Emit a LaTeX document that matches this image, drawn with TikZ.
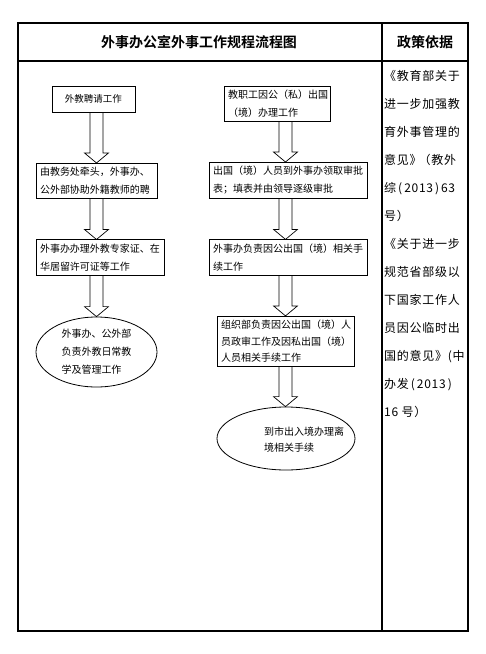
\documentclass[tikz,border=0pt]{standalone}
\usepackage{fontspec}
\setmainfont{Noto Sans CJK SC}[BoldFont={Noto Sans CJK SC Bold}]
\usetikzlibrary{calc,shapes.geometric}
\tikzset{blk/.style={draw, line width=0.8pt, inner sep=4pt, align=left, font=\fontsize{10}{18}\selectfont},
  oval/.style={draw, ellipse, line width=0.8pt, inner sep=0pt, font=\fontsize{10}{18}\selectfont},
  hollow/.style={draw, line width=0.7pt, to path={let \p1=(\tikztostart), \p2=(\tikztotarget) in
    (\x1-6.5pt,\y1) -- (\x1-6.5pt,\y2+10pt) -- (\x1-12pt,\y2+10pt) -- (\x2,\y2)
    -- (\x1+12pt,\y2+10pt) -- (\x1+6.5pt,\y2+10pt) -- (\x1+6.5pt,\y1)}},
  hdr/.style={font=\fontsize{14}{16}\selectfont\bfseries}}

\begin{document}
\begin{tikzpicture}[x=1pt, y=-1pt]
  \useasboundingbox (0,0) rectangle (486,654);
  % table frame
  \draw[line width=1.2pt] (18,23) rectangle (468,631);
  \draw[line width=1.2pt] (18,61) -- (468,61);
  \draw[line width=1.2pt] (382,23) -- (382,631);
  \node[hdr] (title) at (199,42) {外事办公室外事工作规程流程图};
  \node[hdr] (basis) at (425,42) {政策依据};
  % arrow columns
  \coordinate (colL) at (96.5,0);
  \coordinate (colR) at (285.5,0);
  % left column: foreign teachers
  \node[blk, align=center, text width=75, minimum height=26, font=\fontsize{9.5}{12}\selectfont] (b1) at (93.5,99) {外教聘请工作};
  \node[blk, text width=113, minimum height=34] (b2) at (96.5,181) {由教务处牵头，外事办、\\公外部协助外籍教师的聘};
  \node[blk, text width=120, minimum height=35] (b3) at (100,257.5) {外事办办理外教专家证、在\\华居留许可证等工作};
  \node[oval, minimum width=121, minimum height=70, align=left] (e1) at (96.5,352) {外事办、公外部\\负责外教日常教\\学及管理工作};
  \draw[hollow] (b1.south -| colL) to (b2.north -| colL);
  \draw[hollow] (b2.south -| colL) to (b3.north -| colL);
  \draw[hollow] (b3.south -| colL) to (e1.north -| colL);
  % right column: staff going abroad
  \node[blk, text width=98, minimum height=34] (r1) at (277,104) {教职工因公（私）出国\\（境）办理工作};
  \node[blk, text width=150, minimum height=35] (r2) at (288,180.5) {出国（境）人员到外事办领取审批\\表；填表并由领导逐级审批};
  \node[blk, text width=150, minimum height=35] (r3) at (288,257.5) {外事办负责因公出国（境）相关手\\续工作};
  \node[blk, text width=129, minimum height=49, font=\fontsize{10}{16.5}\selectfont] (r4) at (285.5,341.5) {组织部负责因公出国（境）人\\员政审工作及因私出国（境）\\人员相关手续工作};
  \node[oval, minimum width=138, minimum height=63] (e2) at (286,438.5) {};
  \node[anchor=west, align=left, inner sep=0pt, font=\fontsize{10}{16}\selectfont] (e2txt) at (264,440) {到市出入境办理离\\境相关手续};
  \draw[hollow] (r1.south -| colR) to (r2.north -| colR);
  \draw[hollow] (r2.south -| colR) to (r3.north -| colR);
  \draw[hollow] (r3.south -| colR) to (r4.north -| colR);
  \draw[hollow] (r4.south -| colR) to (e2.north -| colR);
  % policy column
  \node[anchor=north west, align=left, inner sep=0pt, font=\fontsize{12}{28}\selectfont\addfontfeatures{LetterSpace=6}] (docs) at (384,70)
    {《教育部关于\\进一步加强教\\育外事管理的\\意见》\kern-3pt（教外\\综\,(\,2013\,)\,63\\号）\\《关于进一步\\规范省部级以\\下国家工作人\\员因公临时出\\国的意见》(中\\办发\,(\,2013\,)\\16 号）};
\end{tikzpicture}
\end{document}
